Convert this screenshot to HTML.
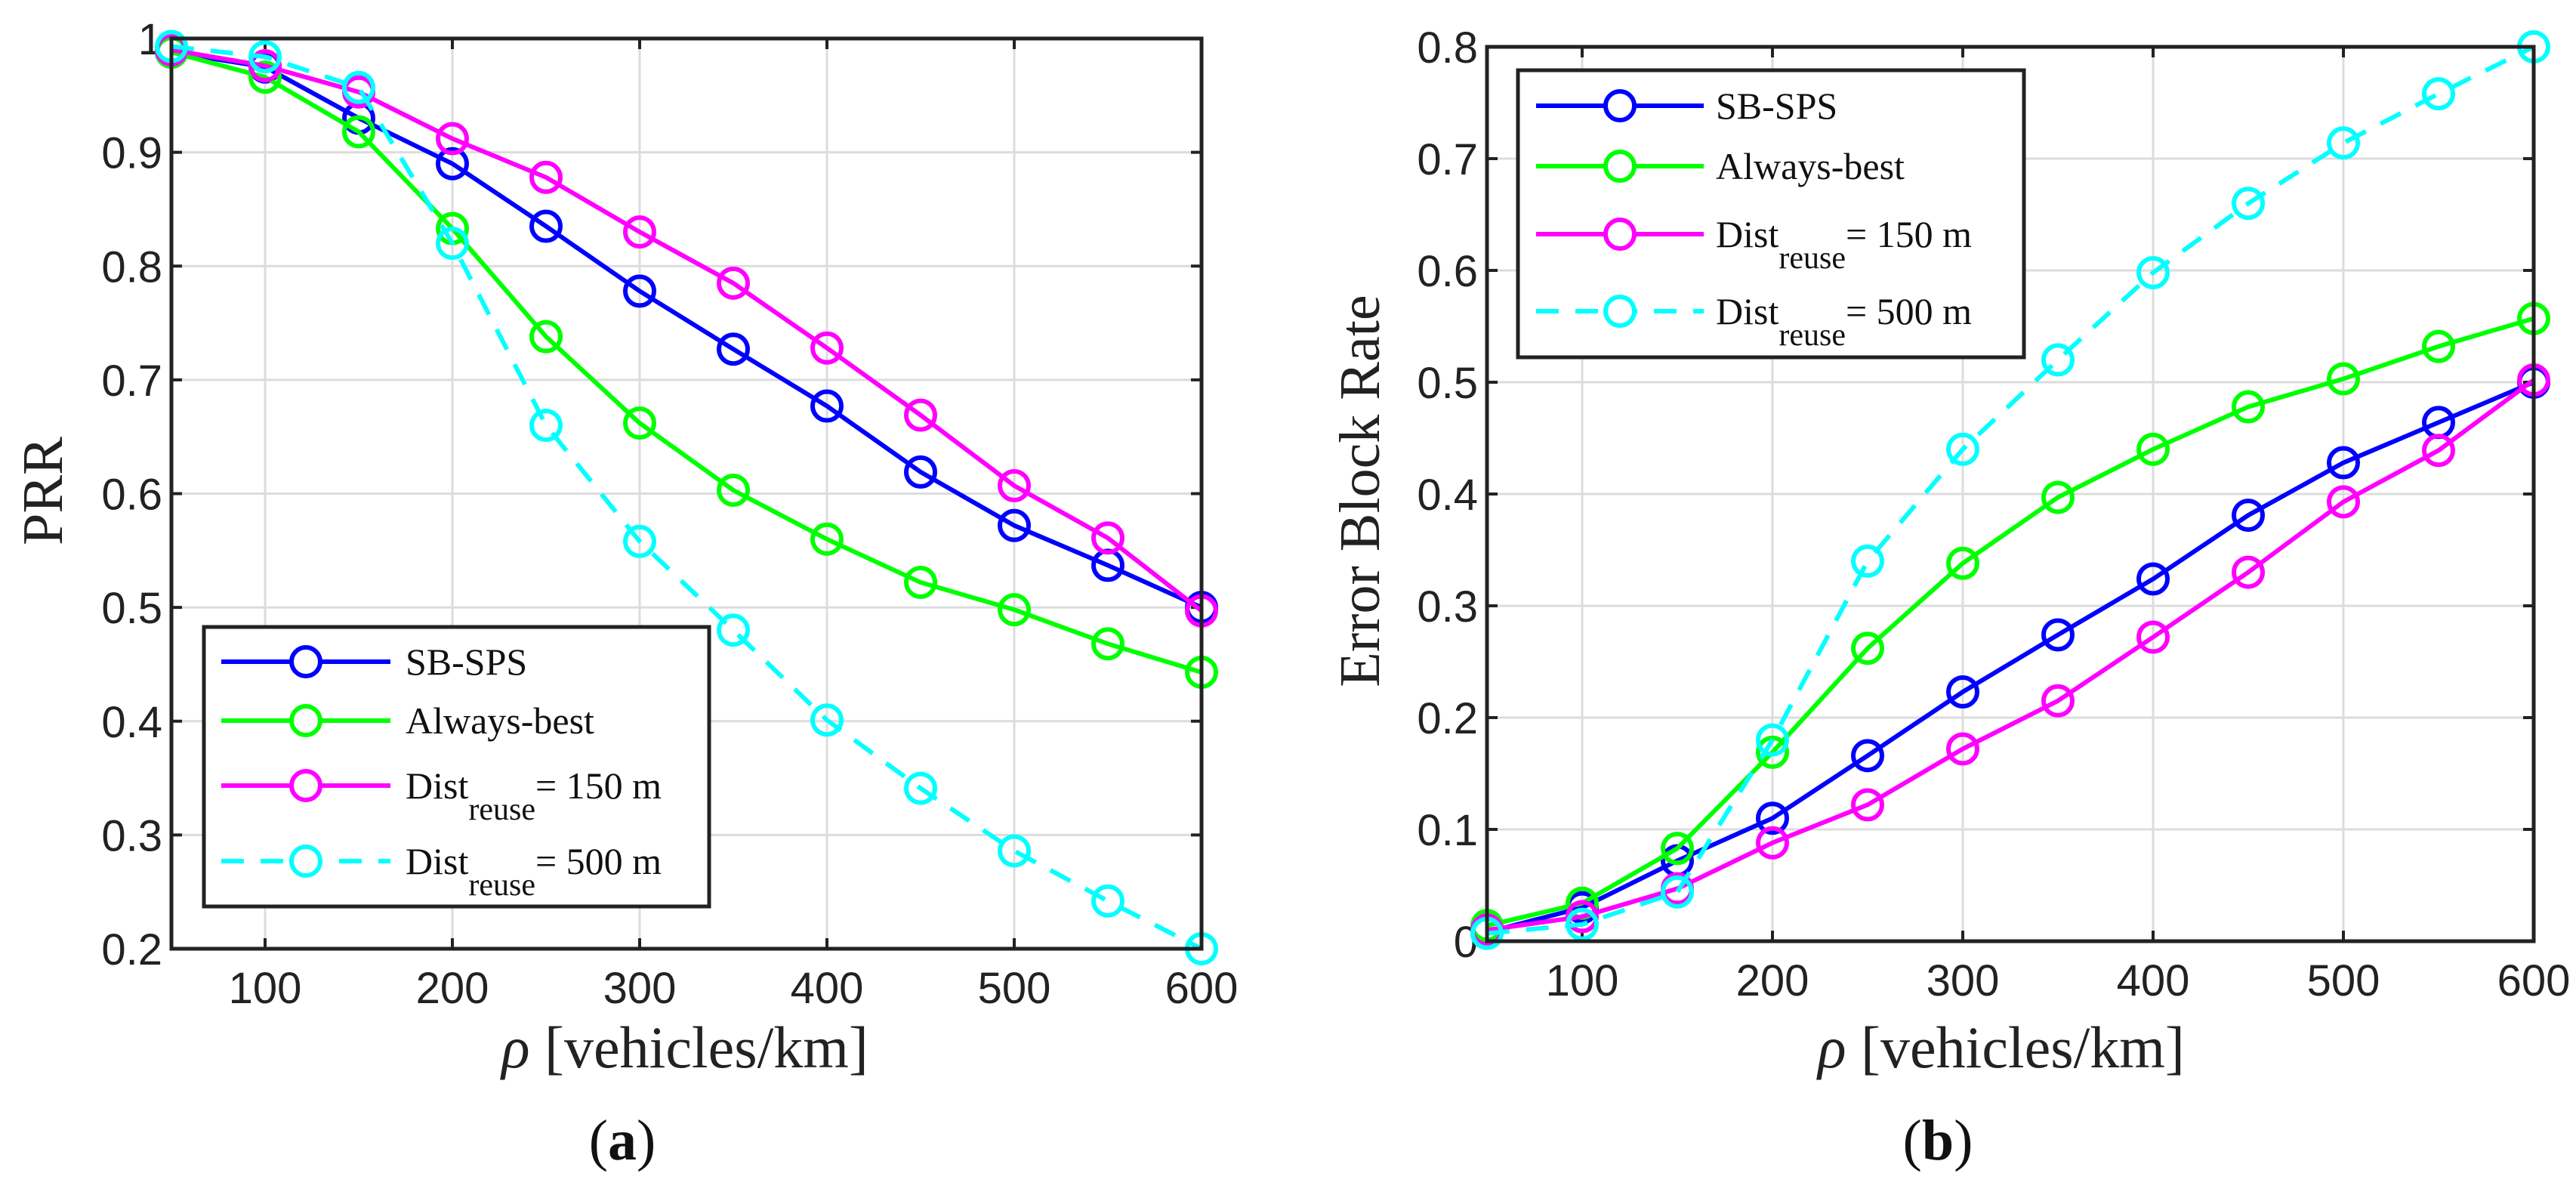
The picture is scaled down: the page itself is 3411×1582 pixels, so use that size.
<!DOCTYPE html>
<html><head><meta charset="utf-8"><style>
html,body{margin:0;padding:0;background:#fff;}
svg{display:block;}
</style></head><body>
<svg id="fig" width="3411" height="1582" viewBox="0 0 3411 1582" xmlns="http://www.w3.org/2000/svg"></svg>
<script>
const xCats=[50,100,150,200,250,300,350,400,450,500,550,600];
const xTicks=[100,200,300,400,500,600];
const aTicks=[0.2,0.3,0.4,0.5,0.6,0.7,0.8,0.9,1];
const aTickLabels=["0.2","0.3","0.4","0.5","0.6","0.7","0.8","0.9","1"];
const bTicks=[0,0.1,0.2,0.3,0.4,0.5,0.6,0.7,0.8];
const bTickLabels=["0","0.1","0.2","0.3","0.4","0.5","0.6","0.7","0.8"];
const aSB=[0.988,0.975,0.93,0.89,0.835,0.778,0.727,0.677,0.619,0.572,0.537,0.5];
const aAB=[0.988,0.966,0.918,0.833,0.738,0.662,0.603,0.56,0.522,0.498,0.468,0.443];
const a150=[0.99,0.976,0.953,0.912,0.878,0.83,0.785,0.728,0.669,0.607,0.561,0.497];
const a500=[0.993,0.984,0.957,0.82,0.66,0.558,0.48,0.401,0.341,0.286,0.242,0.2];
const bSB=[0.008,0.03,0.072,0.11,0.166,0.223,0.274,0.324,0.381,0.428,0.464,0.5];
const bAB=[0.014,0.034,0.083,0.169,0.262,0.338,0.397,0.44,0.478,0.503,0.532,0.557];
const b150=[0.01,0.022,0.047,0.088,0.122,0.172,0.215,0.272,0.33,0.393,0.439,0.502];
const b500=[0.007,0.015,0.044,0.18,0.34,0.44,0.52,0.598,0.66,0.714,0.758,0.8];
const seriesNames=["SB-SPS","Always-best","Dist_reuse = 150 m","Dist_reuse = 500 m"];
const colors=["#0000ff","#00ff00","#ff00ff","#00ffff"];

const NS="http://www.w3.org/2000/svg";
const svg=document.getElementById('fig');
function mk(tag,attrs,parent){const e=document.createElementNS(NS,tag);for(const k in attrs)e.setAttribute(k,attrs[k]);(parent||svg).appendChild(e);return e;}

function panel(cfg){
  const g=mk('g',{});
  
  
  const sx=v=>cfg.L+(v-50)/(600-50)*(cfg.R-cfg.L);
  const sy=v=>cfg.B-(v-cfg.ymin)/(cfg.ymax-cfg.ymin)*(cfg.B-cfg.T);
  xTicks.forEach(t=>{const l=mk('line',{x1:sx(t),x2:sx(t),y1:cfg.T,y2:cfg.B,stroke:'#dcdcdc','stroke-width':3},g);
    });
  cfg.yt.forEach(t=>{const l=mk('line',{x1:cfg.L,x2:cfg.R,y1:sy(t),y2:sy(t),stroke:'#dcdcdc','stroke-width':3},g);
    });
  xTicks.forEach(t=>{mk('line',{x1:sx(t),x2:sx(t),y1:cfg.B,y2:cfg.B-14,stroke:'#222','stroke-width':4},g);
    mk('line',{x1:sx(t),x2:sx(t),y1:cfg.T,y2:cfg.T+14,stroke:'#222','stroke-width':4},g);
    const tx=mk('text',{x:sx(t),y:cfg.B+72,'text-anchor':'middle','font-size':58,'font-family':'Liberation Sans, sans-serif',fill:'#222'},g);
    tx.textContent=t;});
  cfg.yt.forEach((t,i)=>{mk('line',{x1:cfg.L,x2:cfg.L+14,y1:sy(t),y2:sy(t),stroke:'#222','stroke-width':4},g);
    mk('line',{x1:cfg.R,x2:cfg.R-14,y1:sy(t),y2:sy(t),stroke:'#222','stroke-width':4},g);
    const tx=mk('text',{x:cfg.L-12,y:sy(t)+21,'text-anchor':'end','font-size':58,'font-family':'Liberation Sans, sans-serif',fill:'#222'},g);
    tx.textContent=cfg.ytl[i];});
  cfg.data.forEach((d,si)=>{
    const sg=mk('g',{},g);
    
    
    const pts=d.map((v,i)=>sx(xCats[i])+','+sy(v)).join(' ');
    mk('polyline',{points:pts,fill:'none',stroke:colors[si],'stroke-width':6,'stroke-dasharray':si===3?'30,22':'none'},sg);
    d.forEach((v,i)=>{const c=mk('circle',{cx:sx(xCats[i]),cy:sy(v),r:19,fill:'none',stroke:colors[si],'stroke-width':6},sg);
      });
  });
  const bx=mk('rect',{x:cfg.L,y:cfg.T,width:cfg.R-cfg.L,height:cfg.B-cfg.T,fill:'none',stroke:'#222','stroke-width':5},g);
  
  const lg=mk('g',{},g);
  
  mk('rect',{x:cfg.lg.x,y:cfg.lg.y,width:cfg.lg.w,height:cfg.lg.h,fill:'#fff',stroke:'#222','stroke-width':5},lg);
  cfg.lg.rows.forEach((ry,si)=>{
    const eg=mk('g',{},lg);
    
    mk('line',{x1:cfg.lg.l1,x2:cfg.lg.l2,y1:ry,y2:ry,stroke:colors[si],'stroke-width':6,'stroke-dasharray':si===3?'30,22':'none'},eg);
    mk('circle',{cx:(cfg.lg.l1+cfg.lg.l2)/2,cy:ry,r:19,fill:'#fff',stroke:colors[si],'stroke-width':6},eg);
    const t=mk('text',{x:cfg.lg.tx,y:ry+17,'font-size':50,'font-family':'Liberation Serif, serif',fill:'#111'},eg);
    if(si<2){t.textContent=seriesNames[si];}
    else{t.appendChild(document.createTextNode('Dist'));
      const s=mk('tspan',{dy:28,'font-size':42},t);s.textContent='reuse';
      const s2=mk('tspan',{dy:-28,'font-size':50},t);s2.textContent=(si===2?'= 150 m':'= 500 m');}
  });
  const xl=mk('text',{x:cfg.xlx,y:1413,'text-anchor':'middle','font-size':78,'font-family':'Liberation Serif, serif',fill:'#222'},g);
  const rho=mk('tspan',{'font-style':'italic'},xl);rho.textContent='ρ';
  const rest=mk('tspan',{},xl);rest.textContent=' [vehicles/km]';
  
  const yl=mk('text',{x:0,y:0,'text-anchor':'middle','font-size':76,'font-family':'Liberation Serif, serif',fill:'#222',transform:`translate(${cfg.ylx},${cfg.yly}) rotate(-90)`},g);
  yl.textContent=cfg.ylabel;
  const cap=mk('text',{x:cfg.capx,y:1535,'text-anchor':'middle','font-size':76,'font-family':'Liberation Serif, serif',fill:'#111'},g);
  cap.appendChild(document.createTextNode('('));const bb=mk('tspan',{'font-weight':'bold'},cap);bb.textContent=cfg.cap;cap.appendChild(document.createTextNode(')'));
  
}
panel({name:'chart-a-prr',L:227,R:1591,T:51,B:1256,ymin:0.2,ymax:1,yt:aTicks,ytl:aTickLabels,
  data:[aSB,aAB,a150,a500],ylabel:'PRR',ylx:82,yly:650,xlx:907,capx:824,cap:'a',
  lg:{x:270,y:830,w:669,h:370,rows:[876,954,1040,1140],l1:293,l2:517,tx:537}});
panel({name:'chart-b-error-block-rate',L:1969,R:3355,T:62,B:1246,ymin:0,ymax:0.8,yt:bTicks,ytl:bTickLabels,
  data:[bSB,bAB,b150,b500],ylabel:'Error Block Rate',ylx:1826,yly:650,xlx:2650,capx:2566,cap:'b',
  lg:{x:2010,y:93,w:670,h:380,rows:[140,220,310,412],l1:2034,l2:2256,tx:2272}});
</script>
</body></html>
